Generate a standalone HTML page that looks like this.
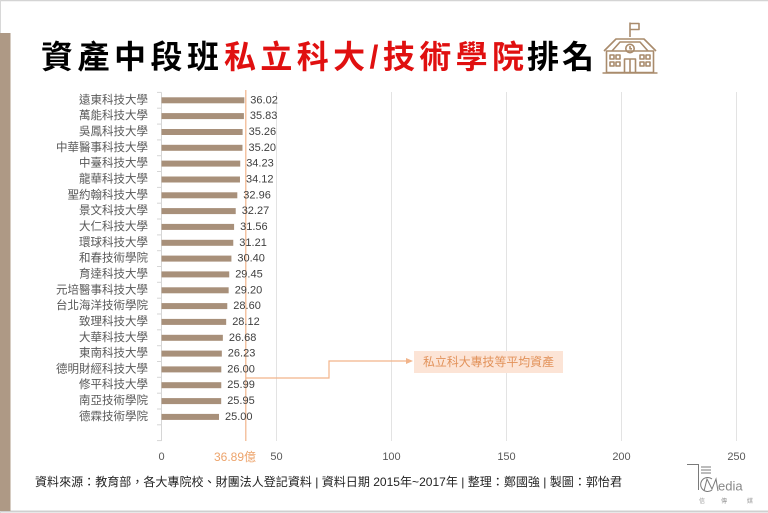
<!DOCTYPE html>
<html>
<head>
<meta charset="utf-8">
<style>
  html,body{margin:0;padding:0;background:#fff;}
  body{width:768px;height:513px;overflow:hidden;}
  svg{display:block;}
  .cjk{font-family:"Liberation Sans","Noto Sans CJK TC",sans-serif;}
</style>
</head>
<body>
<svg width="768" height="513" viewBox="0 0 768 513" xmlns="http://www.w3.org/2000/svg">
  <rect x="0" y="0" width="768" height="513" fill="#ffffff"/>
  <!-- frame -->
  <line x1="0" y1="0.5" x2="768" y2="0.5" stroke="#d4d4d4" stroke-width="1.5"/>
  <line x1="0" y1="511.5" x2="768" y2="511.5" stroke="#d0d0d0" stroke-width="2"/>
  <line x1="0.5" y1="0" x2="0.5" y2="513" stroke="#d8d8d8" stroke-width="1"/>
  <!-- left brown bar -->
  <rect x="0" y="33" width="10.5" height="478" fill="#ae9985"/>

  <!-- title -->
  <g class="cjk" font-size="32" font-weight="bold" dominant-baseline="central">
    <text x="41" y="57" fill="#000" textLength="178" lengthAdjust="spacing">資產中段班</text>
    <text x="224" y="57" fill="#e01010" textLength="300" lengthAdjust="spacing">私立科大/技術學院</text>
    <text x="527" y="57" fill="#000" textLength="67" lengthAdjust="spacing">排名</text>
  </g>

  <!-- school icon -->
  <g fill="none" stroke="#a98b6c" stroke-width="1.6" stroke-linejoin="round">
    <line x1="630" y1="22.5" x2="630" y2="37"/>
    <path d="M630 23.5 H639 V29.5 H630" fill="none"/>
    <path d="M604 51 L616 39 H644 L656 51"/>
    <path d="M612 51 L620 42 H640 L648 51"/>
    <circle cx="630" cy="48.5" r="4.2"/>
    <path d="M630 46 V48.8 H632"/>
    <rect x="606.5" y="51" width="47" height="21.5"/>
    <line x1="602.5" y1="73" x2="657.5" y2="73"/>
    <rect x="610" y="55" width="4" height="4"/>
    <rect x="616" y="55" width="4" height="4"/>
    <rect x="610" y="62" width="4" height="4"/>
    <rect x="616" y="62" width="4" height="4"/>
    <rect x="640" y="55" width="4" height="4"/>
    <rect x="646" y="55" width="4" height="4"/>
    <rect x="640" y="62" width="4" height="4"/>
    <rect x="646" y="62" width="4" height="4"/>
    <path d="M624.5 72.5 V59 H635.5 V72.5"/>
    <line x1="630" y1="59" x2="630" y2="72.5"/>
  </g>

  <!-- gridlines -->
  <g stroke="#e3e3e3" stroke-width="1">
    <line x1="276.5" y1="92" x2="276.5" y2="441"/>
    <line x1="391.5" y1="92" x2="391.5" y2="441"/>
    <line x1="506.5" y1="92" x2="506.5" y2="441"/>
    <line x1="621.5" y1="92" x2="621.5" y2="441"/>
    <line x1="736.5" y1="92" x2="736.5" y2="441"/>
  </g>
  <!-- category axis -->
  <g stroke="#d6d6d6" stroke-width="1">
    <line x1="161.5" y1="92.4" x2="161.5" y2="441"/>
    <line x1="157" y1="92.4" x2="161.5" y2="92.4"/>
    <line x1="157" y1="108.2" x2="161.5" y2="108.2"/>
    <line x1="157" y1="124.1" x2="161.5" y2="124.1"/>
    <line x1="157" y1="139.9" x2="161.5" y2="139.9"/>
    <line x1="157" y1="155.7" x2="161.5" y2="155.7"/>
    <line x1="157" y1="171.5" x2="161.5" y2="171.5"/>
    <line x1="157" y1="187.4" x2="161.5" y2="187.4"/>
    <line x1="157" y1="203.2" x2="161.5" y2="203.2"/>
    <line x1="157" y1="219.0" x2="161.5" y2="219.0"/>
    <line x1="157" y1="234.9" x2="161.5" y2="234.9"/>
    <line x1="157" y1="250.7" x2="161.5" y2="250.7"/>
    <line x1="157" y1="266.5" x2="161.5" y2="266.5"/>
    <line x1="157" y1="282.3" x2="161.5" y2="282.3"/>
    <line x1="157" y1="298.2" x2="161.5" y2="298.2"/>
    <line x1="157" y1="314.0" x2="161.5" y2="314.0"/>
    <line x1="157" y1="329.8" x2="161.5" y2="329.8"/>
    <line x1="157" y1="345.7" x2="161.5" y2="345.7"/>
    <line x1="157" y1="361.5" x2="161.5" y2="361.5"/>
    <line x1="157" y1="377.3" x2="161.5" y2="377.3"/>
    <line x1="157" y1="393.2" x2="161.5" y2="393.2"/>
    <line x1="157" y1="409.0" x2="161.5" y2="409.0"/>
    <line x1="157" y1="424.8" x2="161.5" y2="424.8"/>
    <line x1="157" y1="440.6" x2="161.5" y2="440.6"/>
  </g>

  <!-- bars -->
  <g fill="#a8907a">
    <rect x="161.5" y="97.3" width="82.85" height="6"/>
    <rect x="161.5" y="113.1" width="82.41" height="6"/>
    <rect x="161.5" y="129.0" width="81.10" height="6"/>
    <rect x="161.5" y="144.8" width="80.96" height="6"/>
    <rect x="161.5" y="160.6" width="78.73" height="6"/>
    <rect x="161.5" y="176.5" width="78.48" height="6"/>
    <rect x="161.5" y="192.3" width="75.81" height="6"/>
    <rect x="161.5" y="208.1" width="74.22" height="6"/>
    <rect x="161.5" y="223.9" width="72.59" height="6"/>
    <rect x="161.5" y="239.8" width="71.78" height="6"/>
    <rect x="161.5" y="255.6" width="69.92" height="6"/>
    <rect x="161.5" y="271.4" width="67.74" height="6"/>
    <rect x="161.5" y="287.3" width="67.16" height="6"/>
    <rect x="161.5" y="303.1" width="65.78" height="6"/>
    <rect x="161.5" y="318.9" width="64.68" height="6"/>
    <rect x="161.5" y="334.8" width="61.36" height="6"/>
    <rect x="161.5" y="350.6" width="60.33" height="6"/>
    <rect x="161.5" y="366.4" width="59.80" height="6"/>
    <rect x="161.5" y="382.2" width="59.78" height="6"/>
    <rect x="161.5" y="398.1" width="59.69" height="6"/>
    <rect x="161.5" y="413.9" width="57.50" height="6"/>
  </g>

  <!-- average line & connector -->
  <g stroke="#f2b48a" stroke-width="1.2" fill="none">
    <line x1="245.8" y1="90" x2="245.8" y2="441"/>
    <path d="M245.8 378 H329 V361 H408"/>
  </g>
  <path d="M413 361 L406 358 L406 364 Z" fill="#f2b48a"/>
  <rect x="414" y="351" width="149" height="22" fill="#fce4d6"/>
  <text x="488.5" y="362" class="cjk" font-size="12" fill="#e2925a" text-anchor="middle" dominant-baseline="central" textLength="131" lengthAdjust="spacingAndGlyphs">私立科大專技等平均資產</text>

  <!-- category labels -->
  <g class="cjk" font-size="11.5" fill="#595959" text-anchor="end" dominant-baseline="central">
    <text x="148" y="100.3">遠東科技大學</text>
    <text x="148" y="116.1">萬能科技大學</text>
    <text x="148" y="132.0">吳鳳科技大學</text>
    <text x="148" y="147.8">中華醫事科技大學</text>
    <text x="148" y="163.6">中臺科技大學</text>
    <text x="148" y="179.5">龍華科技大學</text>
    <text x="148" y="195.3">聖約翰科技大學</text>
    <text x="148" y="211.1">景文科技大學</text>
    <text x="148" y="226.9">大仁科技大學</text>
    <text x="148" y="242.8">環球科技大學</text>
    <text x="148" y="258.6">和春技術學院</text>
    <text x="148" y="274.4">育達科技大學</text>
    <text x="148" y="290.3">元培醫事科技大學</text>
    <text x="148" y="306.1">台北海洋技術學院</text>
    <text x="148" y="321.9">致理科技大學</text>
    <text x="148" y="337.8">大華科技大學</text>
    <text x="148" y="353.6">東南科技大學</text>
    <text x="148" y="369.4">德明財經科技大學</text>
    <text x="148" y="385.2">修平科技大學</text>
    <text x="148" y="401.1">南亞技術學院</text>
    <text x="148" y="416.9">德霖技術學院</text>
  </g>

  <!-- value labels -->
  <g font-family="Liberation Sans, sans-serif" font-size="11" fill="#404040" dominant-baseline="central">
    <text x="250.3" y="100.3">36.02</text>
    <text x="249.9" y="116.1">35.83</text>
    <text x="248.6" y="132.0">35.26</text>
    <text x="248.5" y="147.8">35.20</text>
    <text x="246.2" y="163.6">34.23</text>
    <text x="246.0" y="179.5">34.12</text>
    <text x="243.3" y="195.3">32.96</text>
    <text x="241.7" y="211.1">32.27</text>
    <text x="240.1" y="226.9">31.56</text>
    <text x="239.3" y="242.8">31.21</text>
    <text x="237.4" y="258.6">30.40</text>
    <text x="235.2" y="274.4">29.45</text>
    <text x="234.7" y="290.3">29.20</text>
    <text x="233.3" y="306.1">28.60</text>
    <text x="232.2" y="321.9">28.12</text>
    <text x="228.9" y="337.8">26.68</text>
    <text x="227.8" y="353.6">26.23</text>
    <text x="227.3" y="369.4">26.00</text>
    <text x="227.3" y="385.2">25.99</text>
    <text x="227.2" y="401.1">25.95</text>
    <text x="225.0" y="416.9">25.00</text>
  </g>

  <!-- x axis labels -->
  <g font-family="Liberation Sans, sans-serif" font-size="11" fill="#595959" text-anchor="middle" dominant-baseline="central">
    <text x="161.5" y="457">0</text>
    <text x="276.5" y="457">50</text>
    <text x="391.5" y="457">100</text>
    <text x="506.5" y="457">150</text>
    <text x="621.5" y="457">200</text>
    <text x="736.5" y="457">250</text>
  </g>
  <text x="235" y="457" class="cjk" font-size="12" fill="#eda46c" text-anchor="middle" dominant-baseline="central">36.89億</text>

  <!-- footer -->
  <text x="35" y="482" class="cjk" font-size="12" fill="#222" dominant-baseline="central" textLength="587" lengthAdjust="spacingAndGlyphs">資料來源：教育部，各大專院校、財團法人登記資料 | 資料日期 2015年~2017年 | 整理：鄭國強 | 製圖：郭怡君</text>

  <!-- logo -->
  <g stroke="#7a7a7a" stroke-width="1" fill="none">
    <path d="M687 464.5 H698.5 V490"/>
    <line x1="701" y1="467" x2="711" y2="467"/>
    <line x1="701" y1="470" x2="711" y2="470"/>
    <line x1="701" y1="473" x2="711" y2="473"/>
    <path d="M712 479 A7 7 0 1 0 712 490"/>
    <path d="M704 491 L707 479 L712 489 L716 479 L718 491"/>
  </g>
  <text x="718" y="486" font-family="Liberation Sans, sans-serif" font-size="13" fill="#888" dominant-baseline="central">edia</text>
  <g class="cjk" font-size="6" fill="#999" text-anchor="middle" dominant-baseline="central">
    <text x="702" y="502">信</text>
    <text x="724" y="502">傳</text>
    <text x="750" y="502">媒</text>
  </g>
</svg>
</body>
</html>
